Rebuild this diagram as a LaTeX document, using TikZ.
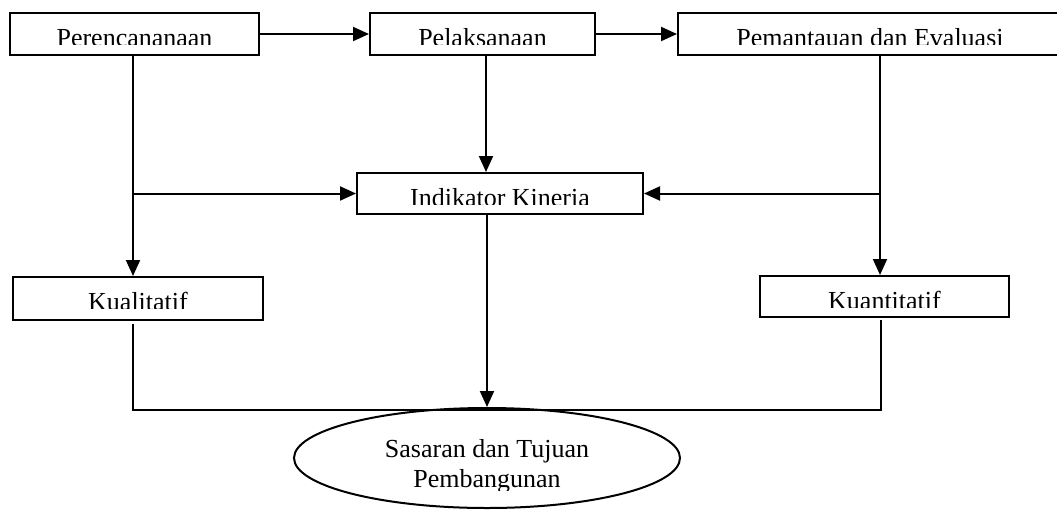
\documentclass[tikz,border=0pt]{standalone}
\usepackage{fontspec}
\setmainfont{Liberation Serif}
\usetikzlibrary{arrows.meta,shapes.geometric}
\tikzset{
  box/.style={draw, line width=2pt, inner sep=0pt, fill=white},
  lbl/.style={inner sep=0pt, anchor=base, font=\fontsize{26}{30}\selectfont},
  link/.style={line width=2pt},
  arr/.style={link, -{Triangle[length=16pt,width=14pt]}},
}
% label set inside a box, with its lower edge cut off by the text frame
\newcommand\framedlabel[2]{%
  \begin{scope}
    \clip ([shift={(0,1)}]#1.north west) rectangle ([shift={(0,32)}]#1.north east);
    \node[lbl] (#1-text) at ([shift={(0,34)}]#1.north) {#2};
  \end{scope}}
\begin{document}
\begin{tikzpicture}[x=1pt,y=-1pt]
\useasboundingbox (0,0) rectangle (1057,509);
\begin{scope}
\clip (0,0) rectangle (1057,509);

% top row
\node[box, minimum width=249pt, minimum height=42pt] (plan) at (134.5,34) {};
\node[box, minimum width=225pt, minimum height=42pt] (exec) at (482.5,34) {};
\node[box, minimum width=384pt, minimum height=42pt] (eval) at (870,34) {};
\framedlabel{plan}{Perencananaan}
\framedlabel{exec}{Pelaksanaan}
\framedlabel{eval}{Pemantauan dan Evaluasi}

% middle
\node[box, minimum width=286pt, minimum height=41pt] (ind) at (500,193.5) {};
\framedlabel{ind}{Indikator Kineria}

% indicator types
\node[box, minimum width=250pt, minimum height=43pt] (kual) at (138,298.5) {};
\node[box, minimum width=249pt, minimum height=41pt] (kuan) at (884.5,296.5) {};
\framedlabel{kual}{Kualitatif}
\framedlabel{kuan}{Kuantitatif}

% goal
\node[draw, ellipse, line width=2pt, inner sep=0pt,
      minimum width=386pt, minimum height=100pt] (goal) at (487,458) {};
\node[lbl] (goal-l1) at (487,457) {Sasaran dan Tujuan};
\begin{scope}
  \clip (300,460) rectangle (680,490);
  \node[lbl] (goal-l2) at (487,487) {Pembangunan};
\end{scope}

% junctions
\coordinate (lj) at (133,193.5);
\coordinate (rj) at (880,193.5);
\coordinate (bl) at (133,409.5);
\coordinate (br) at (881,409.5);

% connectors
\draw[arr] (plan.east) -- (exec.west);
\draw[arr] (exec.east) -- (eval.west);
\draw[arr] ([shift={(3.5,0)}]exec.south) -- ([shift={(-14,0)}]ind.north);
\draw[arr] ([shift={(-1.5,0)}]plan.south) -- ([shift={(-5,0)}]kual.north);
\draw[arr] ([shift={(10,0)}]eval.south) -- ([shift={(-4.5,0)}]kuan.north);
\draw[arr] (lj) -- (ind.west);
\draw[arr] (rj) -- (ind.east);
\draw[arr] ([shift={(-13,0)}]ind.south) -- (goal.north);
\draw[link] ([shift={(-5,3)}]kual.south) -- (bl) -- (br) -- ([shift={(-3.5,2)}]kuan.south);
\end{scope}
\end{tikzpicture}
\end{document}
